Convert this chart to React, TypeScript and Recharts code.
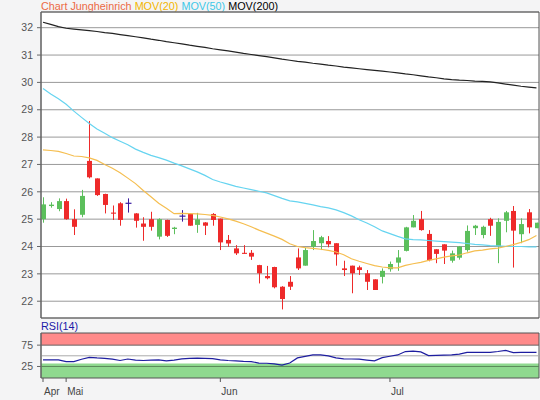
import React from 'react';
import { ComposedChart, Bar, Line, XAxis, YAxis, CartesianGrid, ReferenceArea, ReferenceLine } from 'recharts';

// daily candles (one per trading day)
const opens = [25.0, 25.48, 25.37, 25.66, 25.0, 25.16, 27.13, 26.49, 25.92, 25.24, 25.58, 25.58, 25.21, 24.84, 25.0, 24.36, 24.97, 24.64, 25.11, 25.19, 24.79, 24.88, 25.19, 25.02, 24.24, 23.93, 23.77, 23.77, 23.32, 22.92, 23.25, 22.53, 22.71, 23.6, 23.3, 23.99, 24.12, 24.2, 24.12, 23.2, 23.3, 23.24, 23.02, 22.8, 22.89, 23.17, 23.41, 23.84, 24.7, 25.0, 24.46, 23.9, 24.08, 23.48, 23.59, 23.87, 24.67, 24.42, 25.0, 24.02, 24.94, 25.3, 24.45, 25.25, 24.67];
const highs = [25.8, 25.62, 25.76, 25.75, 25.36, 26.07, 28.59, 26.49, 25.93, 25.5, 25.62, 25.76, 25.22, 25.07, 25.27, 25.03, 24.98, 24.72, 25.33, 25.21, 25.23, 24.89, 25.22, 25.02, 24.42, 24.05, 24.05, 23.87, 23.33, 23.29, 23.26, 22.55, 22.92, 23.93, 23.95, 24.6, 24.39, 24.38, 24.12, 23.48, 23.3, 23.3, 23.14, 22.8, 23.2, 23.45, 23.87, 24.72, 25.15, 25.3, 24.6, 23.9, 24.08, 23.85, 24.02, 24.77, 24.79, 24.76, 25.05, 25.03, 25.3, 25.48, 25.03, 25.37, 24.87];
const lows = [24.87, 25.42, 25.29, 24.98, 24.42, 25.07, 26.49, 25.85, 25.21, 24.97, 24.76, 25.24, 24.69, 24.21, 24.58, 24.26, 24.35, 24.45, 24.91, 24.76, 24.5, 24.42, 24.76, 23.87, 23.99, 23.69, 23.73, 23.51, 22.65, 22.8, 22.47, 21.7, 22.41, 23.14, 23.3, 23.87, 23.87, 23.97, 23.3, 22.92, 22.29, 22.96, 22.41, 22.41, 22.65, 23.08, 23.11, 23.82, 24.7, 24.58, 23.46, 23.39, 23.36, 23.41, 23.52, 23.81, 24.42, 24.3, 24.39, 23.39, 24.52, 23.23, 24.12, 24.48, 24.67];
const closes = [25.54, 25.53, 25.66, 25.0, 24.72, 25.85, 26.53, 25.88, 25.52, 25.2, 24.97, 25.58, 24.94, 24.72, 24.72, 25.0, 24.39, 24.69, 25.11, 24.76, 24.99, 24.76, 24.97, 24.15, 24.11, 23.75, 23.73, 23.63, 23.02, 22.84, 22.51, 22.08, 22.53, 23.2, 23.87, 24.2, 24.34, 24.08, 23.71, 23.14, 23.02, 23.14, 22.71, 22.41, 23.11, 23.36, 23.6, 24.7, 24.94, 24.6, 23.5, 23.73, 23.85, 23.75, 24.0, 24.57, 24.76, 24.72, 24.76, 24.9, 25.25, 24.58, 24.82, 24.7, 24.87];

const mov20 = [27.53, 27.51, 27.48, 27.4, 27.31, 27.29, 27.24, 27.15, 27.0, 26.86, 26.7, 26.5, 26.3, 26.05, 25.82, 25.58, 25.4, 25.2, 25.21, 25.2, 25.19, 25.17, 25.14, 25.08, 25.01, 24.93, 24.83, 24.72, 24.6, 24.49, 24.38, 24.26, 24.1, 24.0, 23.96, 23.93, 23.9, 23.86, 23.8, 23.7, 23.55, 23.46, 23.38, 23.3, 23.25, 23.22, 23.22, 23.31, 23.37, 23.42, 23.49, 23.55, 23.61, 23.66, 23.69, 23.77, 23.84, 23.87, 23.91, 23.94, 24.0, 24.07, 24.15, 24.25, 24.4];
const mov50 = [29.78, 29.58, 29.4, 29.2, 28.95, 28.72, 28.5, 28.3, 28.14, 27.98, 27.85, 27.72, 27.56, 27.44, 27.33, 27.25, 27.16, 27.05, 26.95, 26.84, 26.73, 26.6, 26.45, 26.36, 26.28, 26.2, 26.14, 26.08, 26.02, 25.96, 25.86, 25.76, 25.67, 25.63, 25.58, 25.52, 25.46, 25.41, 25.34, 25.24, 25.12, 24.98, 24.86, 24.72, 24.57, 24.47, 24.37, 24.28, 24.25, 24.24, 24.22, 24.2, 24.18, 24.16, 24.14, 24.11, 24.08, 24.06, 24.03, 24.02, 24.01, 24.0, 24.0, 23.99, 23.99];
const mov200 = [32.2, 32.12, 32.04, 31.98, 31.95, 31.92, 31.89, 31.86, 31.82, 31.79, 31.75, 31.71, 31.67, 31.63, 31.58, 31.54, 31.49, 31.45, 31.41, 31.36, 31.32, 31.28, 31.23, 31.19, 31.15, 31.11, 31.06, 31.02, 30.98, 30.94, 30.9, 30.85, 30.81, 30.77, 30.74, 30.7, 30.67, 30.63, 30.6, 30.56, 30.53, 30.5, 30.47, 30.44, 30.41, 30.38, 30.35, 30.31, 30.28, 30.24, 30.2, 30.17, 30.13, 30.1, 30.08, 30.07, 30.05, 30.04, 30.02, 29.98, 29.94, 29.9, 29.86, 29.83, 29.8];
const rsi14 = [40.5, 40.5, 40.5, 36.5, 36.5, 42, 46.5, 45, 44, 42, 39, 42.5, 40, 39, 40, 40.5, 38.2, 40, 42.8, 44, 44.4, 44, 43.5, 40.5, 39, 38, 37, 36.5, 33, 32.5, 31, 28.2, 33, 45, 48.5, 52, 52, 50, 45, 43, 42.5, 42, 40, 38.2, 45.8, 49, 52, 60, 61, 59, 50.5, 51, 51.5, 52, 54, 58, 58, 58, 58.2, 60, 62.8, 57.3, 58, 58.2, 58.2];

const priceTicks = [22, 23, 24, 25, 26, 27, 28, 29, 30, 31, 32];
const rsiTicks = [25, 75];
const monthTicks = [0, 3, 23, 45];
const monthLabels = ['Apr', 'Mai', 'Jun', 'Jul'];

const data = opens.map((open, i) => ({
  i,
  open,
  high: highs[i],
  low: lows[i],
  close: closes[i],
  range: [lows[i], highs[i]],
  mov20: mov20[i],
  mov50: mov50[i],
  mov200: mov200[i],
  rsi: rsi14[i],
}));

const X_DOMAIN: [number, number] = [-0.26, 64.33];
const UP = '#5cbf5c';
const DOWN = '#ee2a2a';
const FLAT = '#3a1aa0';

const Candle = (props: any) => {
  const { x, y, width, height, payload } = props;
  if (!payload) return null;
  const { open, close, high, low } = payload;
  const top = Math.min(y, y + height);
  const h = Math.abs(height);
  const k = high > low ? h / (high - low) : 0;
  const cx = Math.round(x + width / 2) + 0.5;
  const yo = top + (high - open) * k;
  const yc = top + (high - close) * k;
  if (open === close) {
    return (
      <g>
        <line x1={cx} x2={cx} y1={top} y2={top + h} stroke={FLAT} strokeWidth={1} />
        <line x1={cx - 3} x2={cx + 3} y1={yo} y2={yo} stroke={FLAT} strokeWidth={1.2} />
      </g>
    );
  }
  const color = close > open ? UP : DOWN;
  return (
    <g>
      <line x1={cx} x2={cx} y1={top} y2={top + h} stroke={color} strokeWidth={1} />
      <rect x={cx - 2.5} y={Math.min(yo, yc)} width={5} height={Math.max(1, Math.abs(yo - yc))} fill={color} />
    </g>
  );
};

const MonthTick = (props: any) => {
  const { x, y, payload } = props;
  const idx = monthTicks.indexOf(payload.value);
  return (
    <text x={x + 1} y={y} dy="0.71em" textAnchor="start" fill="#444" fontSize={10}>
      {monthLabels[idx]}
    </text>
  );
};

const App: React.FC = () => {
  return (
    <div
      style={{
        position: 'absolute',
        left: 0,
        top: 0,
        width: 540,
        height: 400,
        background: '#f4f4f5',
        fontFamily: '"Liberation Sans", Arial, sans-serif',
        overflow: 'hidden',
      }}
    >
      <div style={{ position: 'absolute', left: 41, top: 0, fontSize: 10.8, lineHeight: '13px', whiteSpace: 'nowrap' }}>
        <span style={{ color: '#ec6a45' }}>Chart Jungheinrich </span>
        <span style={{ color: '#f2b400' }}>MOV(20) </span>
        <span style={{ color: '#3cc8e8' }}>MOV(50) </span>
        <span style={{ color: '#000' }}>MOV(200)</span>
      </div>

      <div style={{ position: 'absolute', left: 0, top: 0 }}>
        <ComposedChart width={540} height={320} data={data} margin={{ top: 12, right: 1, left: 0, bottom: 2 }}>
          <CartesianGrid fill="#fff" stroke="#999" vertical={false} />
          <XAxis type="number" dataKey="i" domain={X_DOMAIN} allowDataOverflow hide />
          <YAxis
            domain={[21.386, 32.574]}
            allowDataOverflow
            ticks={priceTicks}
            width={41}
            tickSize={4}
            tickMargin={4}
            stroke="#666"
            tick={{ fill: '#555', fontSize: 10.5 }}
          />
          <Line dataKey="mov200" stroke="#222" strokeWidth={1.2} dot={false} isAnimationActive={false} />
          <Line dataKey="mov50" stroke="#66d4f0" strokeWidth={1.2} dot={false} isAnimationActive={false} />
          <Line dataKey="mov20" stroke="#f5be50" strokeWidth={1.2} dot={false} isAnimationActive={false} />
          <Bar dataKey="range" barSize={6} shape={<Candle />} isAnimationActive={false} />
          <ReferenceArea x1={X_DOMAIN[0]} x2={X_DOMAIN[1]} y1={21.386} y2={32.574} fill="none" fillOpacity={0} stroke="#555" />
        </ComposedChart>
      </div>

      <div style={{ position: 'absolute', left: 41, top: 320, fontSize: 10.8, lineHeight: '13px', color: '#1a1aa8' }}>RSI(14)</div>

      <div style={{ position: 'absolute', left: 0, top: 322 }}>
        <ComposedChart width={540} height={78} data={data} margin={{ top: 11, right: 1, left: 0, bottom: 0 }}>
          <CartesianGrid fill="#fff" stroke="none" />
          <XAxis
            type="number"
            dataKey="i"
            domain={X_DOMAIN}
            allowDataOverflow
            ticks={monthTicks}
            interval={0}
            height={22}
            tickSize={4}
            tickMargin={6}
            axisLine={false}
            stroke="#555"
            tick={<MonthTick />}
          />
          <YAxis
            domain={[-2, 103.4]}
            allowDataOverflow
            ticks={rsiTicks}
            width={41}
            tickSize={4}
            tickMargin={4}
            stroke="#666"
            tick={{ fill: '#555', fontSize: 10.5 }}
          />
          <ReferenceArea y1={75} y2={103.4} fill="#ff8a8a" fillOpacity={1} stroke="none" ifOverflow="hidden" />
          <ReferenceArea y1={-2} y2={32} fill="#8fd98f" fillOpacity={1} stroke="none" ifOverflow="hidden" />
          <ReferenceLine y={50} stroke="#aaa" />
          <ReferenceLine y={75} stroke="#666" />
          <ReferenceLine y={25} stroke="#5a8a5a" />
          <Line dataKey="rsi" stroke="#1e1ea0" strokeWidth={1.2} dot={false} isAnimationActive={false} />
          <ReferenceArea x1={X_DOMAIN[0]} x2={X_DOMAIN[1]} y1={-2} y2={103.4} fill="none" fillOpacity={0} stroke="#555" />
        </ComposedChart>
      </div>
    </div>
  );
};

export default App;
